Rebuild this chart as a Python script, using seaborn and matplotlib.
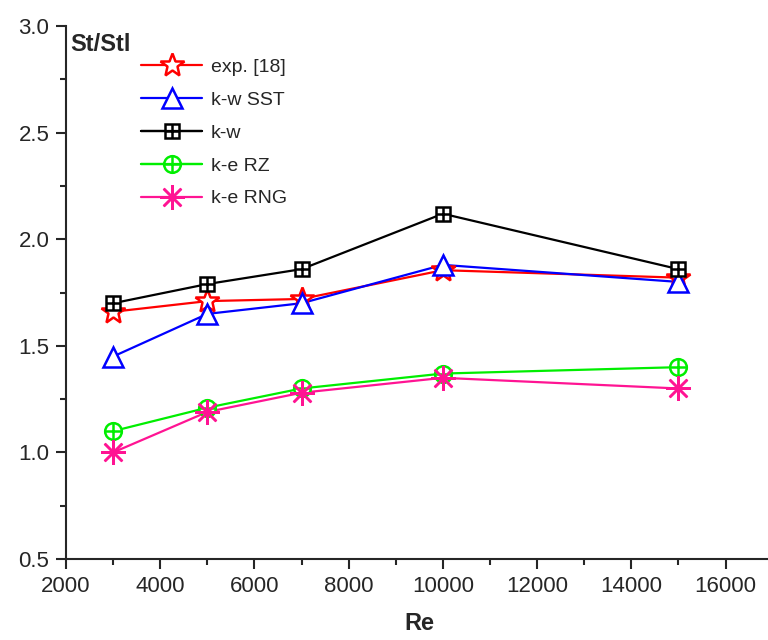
import pandas as pd
import matplotlib
matplotlib.use('Agg')
import matplotlib.pyplot as plt
import seaborn as sns
from matplotlib.ticker import MultipleLocator
from matplotlib.lines import Line2D
from matplotlib.legend_handler import HandlerTuple

# data
re_values = [3000, 5000, 7000, 10000, 15000]
exp_18 = [1.66, 1.71, 1.72, 1.855, 1.82]
kw_sst = [1.45, 1.65, 1.70, 1.88, 1.80]
kw = [1.70, 1.79, 1.86, 2.12, 1.86]
ke_rz = [1.10, 1.21, 1.30, 1.37, 1.40]
ke_rng = [1.00, 1.19, 1.28, 1.35, 1.30]
series_names = ['exp. [18]', 'k-w SST', 'k-w', 'k-e RZ', 'k-e RNG']

sns.set_style('ticks')
plt.rcParams['font.family'] = ['Liberation Sans', 'DejaVu Sans']

df = pd.DataFrame({'Re': re_values * 5,
                   'value': exp_18 + kw_sst + kw + ke_rz + ke_rng,
                   'model': [n for n in series_names for _ in re_values]})

colors = {'exp. [18]': 'red', 'k-w SST': 'blue', 'k-w': 'black',
          'k-e RZ': '#00ee00', 'k-e RNG': '#ff1493'}

fig = plt.figure(figsize=(7.68, 6.4), dpi=100)
ax = fig.add_axes([0.086, 0.1266, 0.92, 0.8325])

# lines
sns.lineplot(data=df, x='Re', y='value', hue='model', palette=colors,
             legend=False, lw=1.6, ax=ax)

# markers (some are built from two overlaid shapes)
style = {'exp. [18]': [dict(marker='*', ms=18, mfc='white', mew=1.8)],
         'k-w SST': [dict(marker='^', ms=14, mfc='white', mew=1.8)],
         'k-w': [dict(marker='s', ms=10, mfc='white', mew=1.8),
                 dict(marker='+', ms=10, mew=1.8)],
         'k-e RZ': [dict(marker='o', ms=12, mfc='white', mew=1.8),
                    dict(marker='+', ms=12, mew=1.8)],
         'k-e RNG': [dict(marker=(8, 2, 0), ms=18, mew=1.8)]}

handles = []
for name in series_names:
    sub = df[df['model'] == name]
    for st in style[name]:
        ax.plot(sub['Re'], sub['value'], ls='none', color=colors[name],
                mec=colors[name], **st)
    h = tuple(Line2D([], [], color=colors[name], mec=colors[name], lw=1.6, **st)
              for st in style[name])
    handles.append(h)

ax.legend(handles, series_names, loc='upper left', bbox_to_anchor=(0.082, 0.972),
          frameon=False, fontsize=14, handlelength=3.1, handletextpad=0.45,
          labelspacing=0.78, handler_map={tuple: HandlerTuple(ndivide=1)})

ax.set_xlim(2000, 17000)
ax.set_ylim(0.5, 3.0)
ax.xaxis.set_major_locator(MultipleLocator(2000))
ax.xaxis.set_minor_locator(MultipleLocator(1000))
ax.yaxis.set_major_locator(MultipleLocator(0.5))
ax.yaxis.set_minor_locator(MultipleLocator(0.25))
ax.tick_params(which='major', length=7, width=1.5, labelsize=16, pad=5)
ax.tick_params(which='minor', length=4, width=1.5)
for s in ['top', 'right']:
    ax.spines[s].set_visible(False)
for s in ['left', 'bottom']:
    ax.spines[s].set_linewidth(1.5)

ax.set_xlabel('Re', fontsize=17, fontweight='bold', labelpad=11)
ax.set_ylabel('')
ax.text(0.006, 0.988, 'St/Stl', transform=ax.transAxes, fontsize=17,
        fontweight='bold', va='top', ha='left')

plt.savefig('out.png', dpi=100)
